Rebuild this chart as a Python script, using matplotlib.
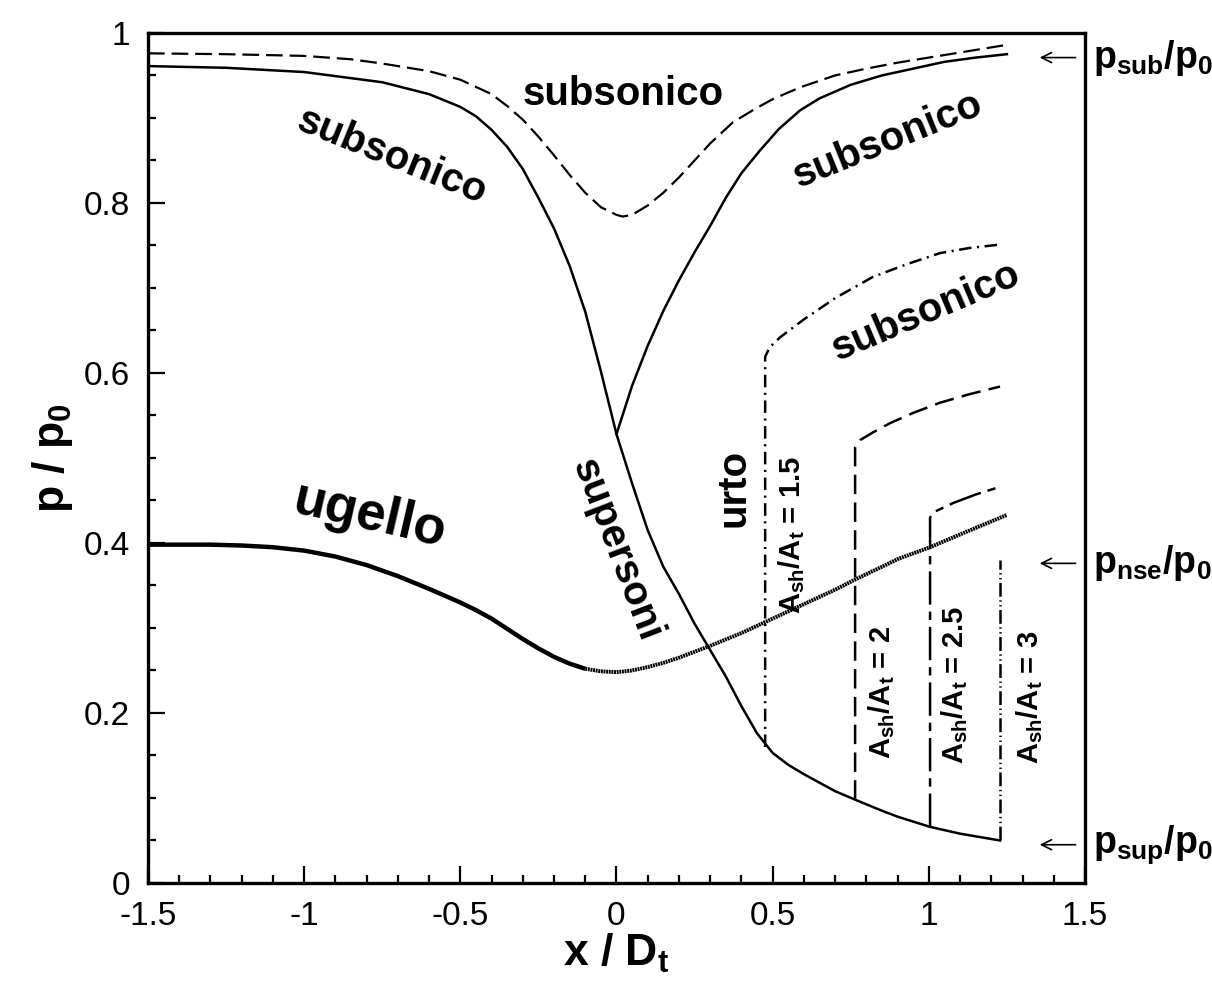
import numpy as np
import matplotlib
matplotlib.use('Agg')
import matplotlib.pyplot as plt
from matplotlib.ticker import MultipleLocator, FormatStrFormatter

plt.rcParams['font.family'] = ['Liberation Sans', 'DejaVu Sans']
plt.rcParams['mathtext.fontset'] = 'custom'
plt.rcParams['mathtext.rm'] = 'Liberation Sans:bold'
plt.rcParams['mathtext.default'] = 'rm'
plt.rcParams['lines.scale_dashes'] = False

# nozzle wall pressure ("ugello"), converging and diverging halves
x_ug = [-1.5, -1.3, -1.2, -1.1, -1.0, -0.9, -0.8, -0.7, -0.6, -0.5, -0.45, -0.4,
        -0.35, -0.3, -0.25, -0.2, -0.15, -0.1]
p_ug = [0.398, 0.398, 0.397, 0.395, 0.391, 0.384, 0.374, 0.361, 0.346, 0.330,
        0.321, 0.311, 0.299, 0.287, 0.276, 0.266, 0.258, 0.252]
x_ug2 = [-0.1, -0.05, 0.0, 0.05, 0.1, 0.15, 0.2, 0.3, 0.4, 0.5, 0.6, 0.7, 0.764,
         0.85, 0.9, 1.004, 1.1, 1.25]
p_ug2 = [0.252, 0.249, 0.248, 0.250, 0.254, 0.259, 0.265, 0.279, 0.294, 0.311,
         0.328, 0.345, 0.357, 0.372, 0.381, 0.395, 0.410, 0.433]

# isentropic solution, converging part + supersonic branch
x_sup = [-1.5, -1.25, -1.0, -0.75, -0.6, -0.5, -0.45, -0.4, -0.35, -0.3, -0.25,
         -0.2, -0.15, -0.1, -0.05, 0.0, 0.05, 0.1, 0.15, 0.2, 0.25, 0.3, 0.35,
         0.4, 0.45, 0.5, 0.55, 0.6, 0.7, 0.764, 0.85, 0.9, 1.004, 1.1, 1.228]
p_sup = [0.961, 0.959, 0.954, 0.942, 0.928, 0.913, 0.902, 0.886, 0.866, 0.840,
         0.806, 0.770, 0.726, 0.672, 0.602, 0.528, 0.470, 0.415, 0.372, 0.340,
         0.305, 0.274, 0.243, 0.208, 0.176, 0.153, 0.139, 0.128, 0.108, 0.098,
         0.085, 0.078, 0.066, 0.058, 0.050]

# subsonic branch after the throat
x_sub = [0.0, 0.05, 0.1, 0.15, 0.2, 0.25, 0.3, 0.35, 0.4, 0.46, 0.52, 0.588,
         0.65, 0.75, 0.85, 0.95, 1.05, 1.15, 1.25]
p_sub = [0.528, 0.585, 0.632, 0.673, 0.709, 0.742, 0.773, 0.806, 0.835, 0.862,
         0.887, 0.909, 0.923, 0.939, 0.950, 0.958, 0.966, 0.971, 0.975]

# fully subsonic (venturi) solution
x_ven = [-1.5, -1.25, -1.0, -0.85, -0.75, -0.6, -0.5, -0.4, -0.35, -0.3, -0.25,
         -0.2, -0.15, -0.1, -0.05, 0.0, 0.02, 0.05, 0.1, 0.15, 0.2, 0.25, 0.3,
         0.373, 0.45, 0.5, 0.588, 0.7, 0.8, 0.9, 1.0, 1.1, 1.25]
p_ven = [0.976, 0.975, 0.973, 0.969, 0.964, 0.955, 0.945, 0.928, 0.914, 0.898,
         0.878, 0.856, 0.833, 0.812, 0.795, 0.786, 0.784, 0.786, 0.797, 0.812,
         0.830, 0.850, 0.870, 0.895, 0.912, 0.922, 0.936, 0.950, 0.958, 0.965,
         0.971, 0.977, 0.986]

# normal shock solutions, one per shock area ratio
shock_area = ['1.5', '2', '2.5', '3']
x_sh15 = [0.476, 0.476, 0.476, 0.49, 0.524, 0.6, 0.7, 0.821, 0.93, 1.036, 1.13,
          1.228]
p_sh15 = [0.160, 0.400, 0.619, 0.630, 0.642, 0.663, 0.688, 0.713, 0.728, 0.741,
          0.747, 0.751]
x_sh2 = [0.764, 0.764, 0.764, 0.78, 0.821, 0.876, 0.95, 1.036, 1.13, 1.228]
p_sh2 = [0.098, 0.300, 0.513, 0.521, 0.530, 0.541, 0.553, 0.565, 0.575, 0.584]
x_sh25 = [1.004, 1.004, 1.004, 1.02, 1.078, 1.15, 1.228]
p_sh25 = [0.066, 0.250, 0.430, 0.437, 0.447, 0.457, 0.466]
x_sh3 = [1.228, 1.228]
p_sh3 = [0.050, 0.380]

# reference pressure levels marked on the right
ref_names = [r'p$_{sub}$/p$_0$', r'p$_{nse}$/p$_0$', r'p$_{sup}$/p$_0$']
ref_levels = [0.971, 0.376, 0.045]

fig = plt.figure(figsize=(12.12, 10.01), dpi=100)
ax = fig.add_axes([0.1221, 0.1179, 0.7731, 0.8492])

ax.plot(x_ug, p_ug, color='black', lw=3.2, solid_capstyle='butt')
ax.plot(x_ug2, p_ug2, color='black', lw=2.8, dashes=(1.4, 0.5))
ax.plot(x_sup, p_sup, color='black', lw=1.8)
ax.plot(x_sub, p_sub, color='black', lw=1.8)
ax.plot(x_ven, p_ven, color='black', lw=1.6, dashes=(12, 5))

ax.plot(x_sh15, p_sh15, color='black', lw=1.8, dashes=(9, 4, 1.5, 4))
ax.plot(x_sh2, p_sh2, color='black', lw=1.8, dashes=(14, 6))
ax.plot(x_sh25, p_sh25, color='black', lw=1.8, dashes=(24, 5, 6, 5))
ax.plot(x_sh3, p_sh3, color='black', lw=1.8, dashes=(10, 2.5, 1, 2.5, 1, 2.5))

ax.set_xlim(-1.5, 1.5)
ax.set_ylim(0, 1)
ax.xaxis.set_major_locator(MultipleLocator(0.5))
ax.xaxis.set_minor_locator(MultipleLocator(0.1))
ax.yaxis.set_major_locator(MultipleLocator(0.2))
ax.yaxis.set_minor_locator(MultipleLocator(0.05))
ax.xaxis.set_major_formatter(FormatStrFormatter('%g'))
ax.yaxis.set_major_formatter(FormatStrFormatter('%g'))
ax.tick_params(which='both', direction='in', top=False, right=False,
               labelsize=24, width=1.6)
ax.tick_params(which='major', length=12)
ax.tick_params(which='minor', length=6)
ax.tick_params(axis='x', which='major', pad=13)
ax.tick_params(axis='y', which='major', pad=13)
for s in ax.spines.values():
    s.set_linewidth(2.4)

ax.set_xlabel(r'x / D$_t$', fontsize=32, fontweight='bold', labelpad=0)
ax.set_ylabel(r'p / p$_0$', fontsize=32, fontweight='bold', labelpad=6)

lab = dict(fontsize=29, fontweight='bold', ha='center', va='center')
ax.text(0.02, 0.928, 'subsonico', rotation=0, **lab)
ax.text(-0.72, 0.855, 'subsonico', rotation=-22, **lab)
ax.text(0.87, 0.874, 'subsonico', rotation=22, **lab)
ax.text(0.99, 0.672, 'subsonico', rotation=23, **lab)
ax.text(0.0, 0.392, 'supersoni', rotation=-69, **lab)
ax.text(0.376, 0.465, 'urto', rotation=90, **lab)
ax.text(-0.79, 0.432, 'ugello', fontsize=38, fontweight='bold', ha='center',
        va='center', rotation=-13)

sh_pos = [(0.562, 0.409), (0.85, 0.224), (1.084, 0.233), (1.324, 0.218)]
for a, (xs, ys) in zip(shock_area, sh_pos):
    ax.text(xs, ys, r'A$_{sh}$/A$_t$ = ' + a, fontsize=21, fontweight='bold',
            rotation=90, ha='center', va='center')

for name, lev in zip(ref_names, ref_levels):
    ax.annotate('', xy=(1.355, lev), xytext=(1.47, lev),
                arrowprops=dict(arrowstyle='->', lw=1.2, color='black',
                                mutation_scale=18, shrinkA=0, shrinkB=0))
    ax.text(1.525, lev, name, fontsize=27, fontweight='bold', ha='left',
            va='center', clip_on=False)

fig.savefig('out.png', dpi=100)
